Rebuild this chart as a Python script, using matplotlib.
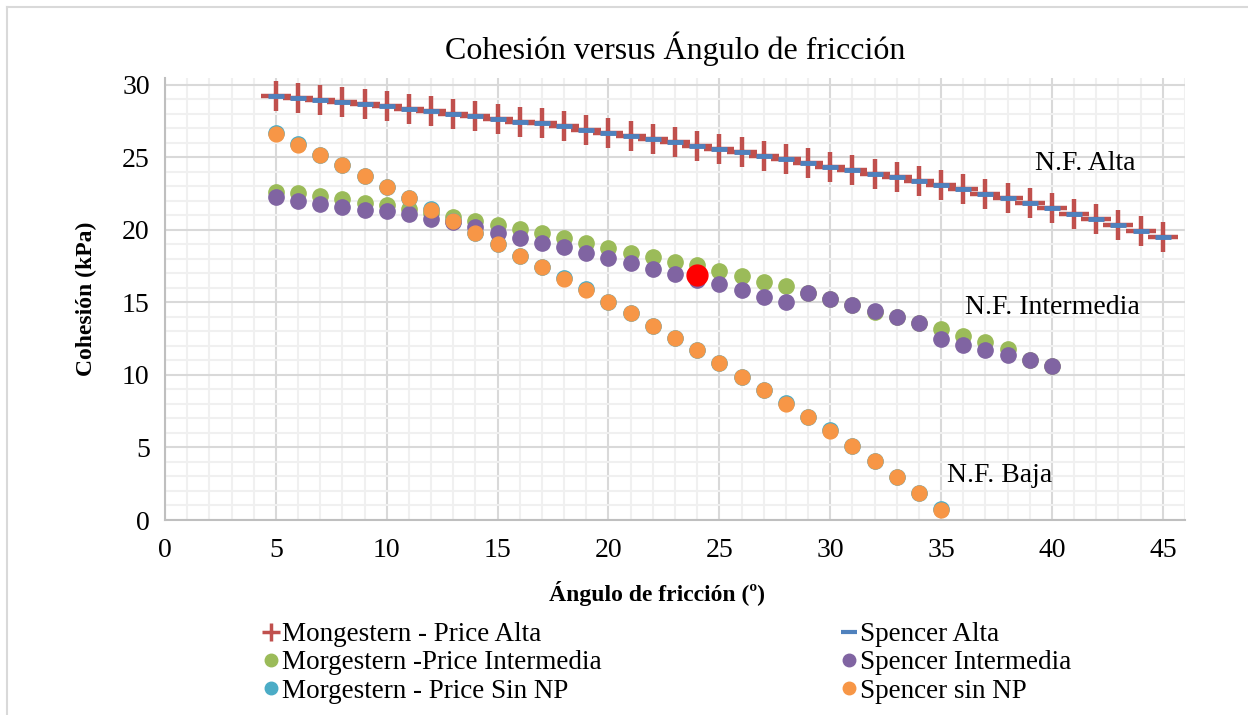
import matplotlib
matplotlib.use("Agg")
import matplotlib.pyplot as plt
from matplotlib.lines import Line2D
from matplotlib.ticker import MultipleLocator

angles_alta = list(range(5, 46))
mp_alta = [29.24, 29.10, 28.97, 28.85, 28.69, 28.53, 28.34, 28.18, 28.02, 27.88,
           27.68, 27.47, 27.36, 27.17, 26.90, 26.71, 26.50, 26.25, 26.07, 25.81,
           25.59, 25.36, 25.13, 24.87, 24.64, 24.37, 24.16, 23.89, 23.63, 23.38,
           23.10, 22.80, 22.50, 22.18, 21.84, 21.49, 21.08, 20.74, 20.34, 19.93, 19.50]
sp_alta = list(mp_alta)

angles_inter = list(range(5, 41))
mp_inter = [22.64, 22.52, 22.34, 22.11, 21.84, 21.70, 21.43, 21.20, 20.92, 20.65,
            20.34, 20.07, 19.82, 19.42, 19.13, 18.74, 18.44, 18.16, 17.82, 17.59,
            17.20, 16.83, 16.44, 16.14, 15.68, 15.24, 14.83, 14.36, 13.98, 13.56,
            13.17, 12.71, 12.25, 11.77, 11.03, 10.62]
sp_inter = [22.25, 22.03, 21.79, 21.56, 21.38, 21.29, 21.10, 20.78, 20.53, 20.23,
            19.82, 19.48, 19.08, 18.80, 18.44, 18.05, 17.70, 17.31, 16.97, 16.55,
            16.25, 15.86, 15.40, 15.06, 15.68, 15.24, 14.83, 14.43, 13.98, 13.56,
            12.46, 12.07, 11.72, 11.36, 11.03, 10.62]

angles_sin = list(range(5, 36))
mp_sin = [26.67, 25.91, 25.17, 24.48, 23.72, 22.99, 22.23, 21.43, 20.65, 19.82,
          19.03, 18.23, 17.47, 16.67, 15.91, 15.06, 14.30, 13.38, 12.57, 11.72,
          10.85, 9.89, 8.97, 8.05, 7.13, 6.20, 5.10, 4.07, 2.99, 1.88, 0.74]
sp_sin = list(mp_sin)

highlight_x = [24]
highlight_y = [16.9]

labels = ["Mongestern - Price Alta", "Spencer Alta",
          "Morgestern -Price Intermedia", "Spencer Intermedia",
          "Morgestern - Price Sin NP", "Spencer sin NP"]

plt.rcParams['font.family'] = ['Liberation Serif', 'DejaVu Serif']

fig = plt.figure(figsize=(12.48, 7.15), dpi=100)
W, H = 1248, 715
ax = fig.add_axes([165 / W, 1 - 520 / H, (1185 - 165) / W, (520 - 78) / H])

c_red = "#c0504d"
c_blue = "#4f81bd"
c_green = "#9bbb59"
c_purple = "#8064a2"
c_cyan = "#4bacc6"
c_orange = "#f79646"

ms_circle = 11
ax.plot(angles_alta, mp_alta, ls='none', marker='+', ms=22, mew=3.2, color=c_red, zorder=3)
ax.plot(angles_alta, sp_alta, ls='none', marker='_', ms=11, mew=3.5, color=c_blue, zorder=4)
ax.plot(angles_inter, mp_inter, ls='none', marker='o', ms=ms_circle, color=c_green, mec=c_green, zorder=3)
ax.plot(angles_inter, sp_inter, ls='none', marker='o', ms=ms_circle, color=c_purple, mec=c_purple, zorder=4)
ax.plot(angles_sin, mp_sin, ls='none', marker='o', ms=ms_circle, color=c_cyan, mec=c_cyan, zorder=3)
ax.plot(angles_sin, [v - 0.03 for v in sp_sin], ls='none', marker='o', ms=ms_circle * 0.97,
        color=c_orange, mec=c_orange, zorder=4)
ax.plot(highlight_x, highlight_y, ls='none', marker='o', ms=15, color='#ff0000', zorder=5)

ax.set_xlim(0, 46)
ax.set_ylim(0, 30.48)
ax.xaxis.set_major_locator(MultipleLocator(5))
ax.xaxis.set_minor_locator(MultipleLocator(1))
ax.yaxis.set_minor_locator(MultipleLocator(1))
ax.set_yticks(range(0, 31, 5))
ax.grid(which='major', color='#d9d9d9', lw=1.5, zorder=0)
ax.grid(which='minor', color='#f0f0f0', lw=1.5, zorder=0)
ax.set_axisbelow(True)
for s in ['top', 'right']:
    ax.spines[s].set_visible(False)
for s in ['left', 'bottom']:
    ax.spines[s].set_color('#bfbfbf')
    ax.spines[s].set_linewidth(1.5)
ax.tick_params(which='both', length=0, labelsize=20, colors='black')
ax.tick_params(axis='x', pad=13)
ax.tick_params(axis='y', pad=11)

ax.set_title("Cohesión versus Ángulo de fricción", fontsize=23, pad=14)
ax.set_xlabel("Ángulo de fricción (º)", fontsize=17, fontweight='bold')
ax.xaxis.set_label_coords((657 - 165) / 1020, (520 - 581) / 442)
ax.set_ylabel("Cohesión (kPa)", fontsize=17, fontweight='bold')
ax.yaxis.set_label_coords((97 - 165) / 1020, 0.5)

ax.text(1085, H - 163, "N.F. Alta", transform=None, fontsize=20, ha='center', va='center')
ax.text(1052, H - 308, "N.F. Intermedia", transform=None, fontsize=20, ha='center', va='center')
ax.text(1000, H - 476, "N.F. Baja", transform=None, fontsize=20, ha='center', va='center')

handles = [
    Line2D([], [], ls='none', marker='+', ms=13, mew=2.5, color=c_red),
    Line2D([], [], ls='none', marker='_', ms=11, mew=3, color=c_blue),
    Line2D([], [], ls='none', marker='o', ms=9, color=c_green),
    Line2D([], [], ls='none', marker='o', ms=9, color=c_purple),
    Line2D([], [], ls='none', marker='o', ms=9, color=c_cyan),
    Line2D([], [], ls='none', marker='o', ms=9, color=c_orange),
]
leg_kw = dict(frameon=False, fontsize=19.5, handlelength=0.5, handletextpad=0.15,
              labelspacing=0.12, borderaxespad=0, borderpad=0, loc='upper left')
leg1 = fig.legend([handles[i] for i in (0, 2, 4)], [labels[i] for i in (0, 2, 4)],
                  bbox_to_anchor=(264 / W, 1 - 622 / H), **leg_kw)
leg2 = fig.legend([handles[i] for i in (1, 3, 5)], [labels[i] for i in (1, 3, 5)],
                  bbox_to_anchor=(842 / W, 1 - 622 / H), **leg_kw)

fig.add_artist(Line2D([7 / W, 7 / W], [0, 1 - 7 / H], color='#d9d9d9', lw=1.5, transform=fig.transFigure))
fig.add_artist(Line2D([7 / W, 1], [1 - 7 / H, 1 - 7 / H], color='#d9d9d9', lw=1.5, transform=fig.transFigure))

fig.savefig("out.png", dpi=100)
